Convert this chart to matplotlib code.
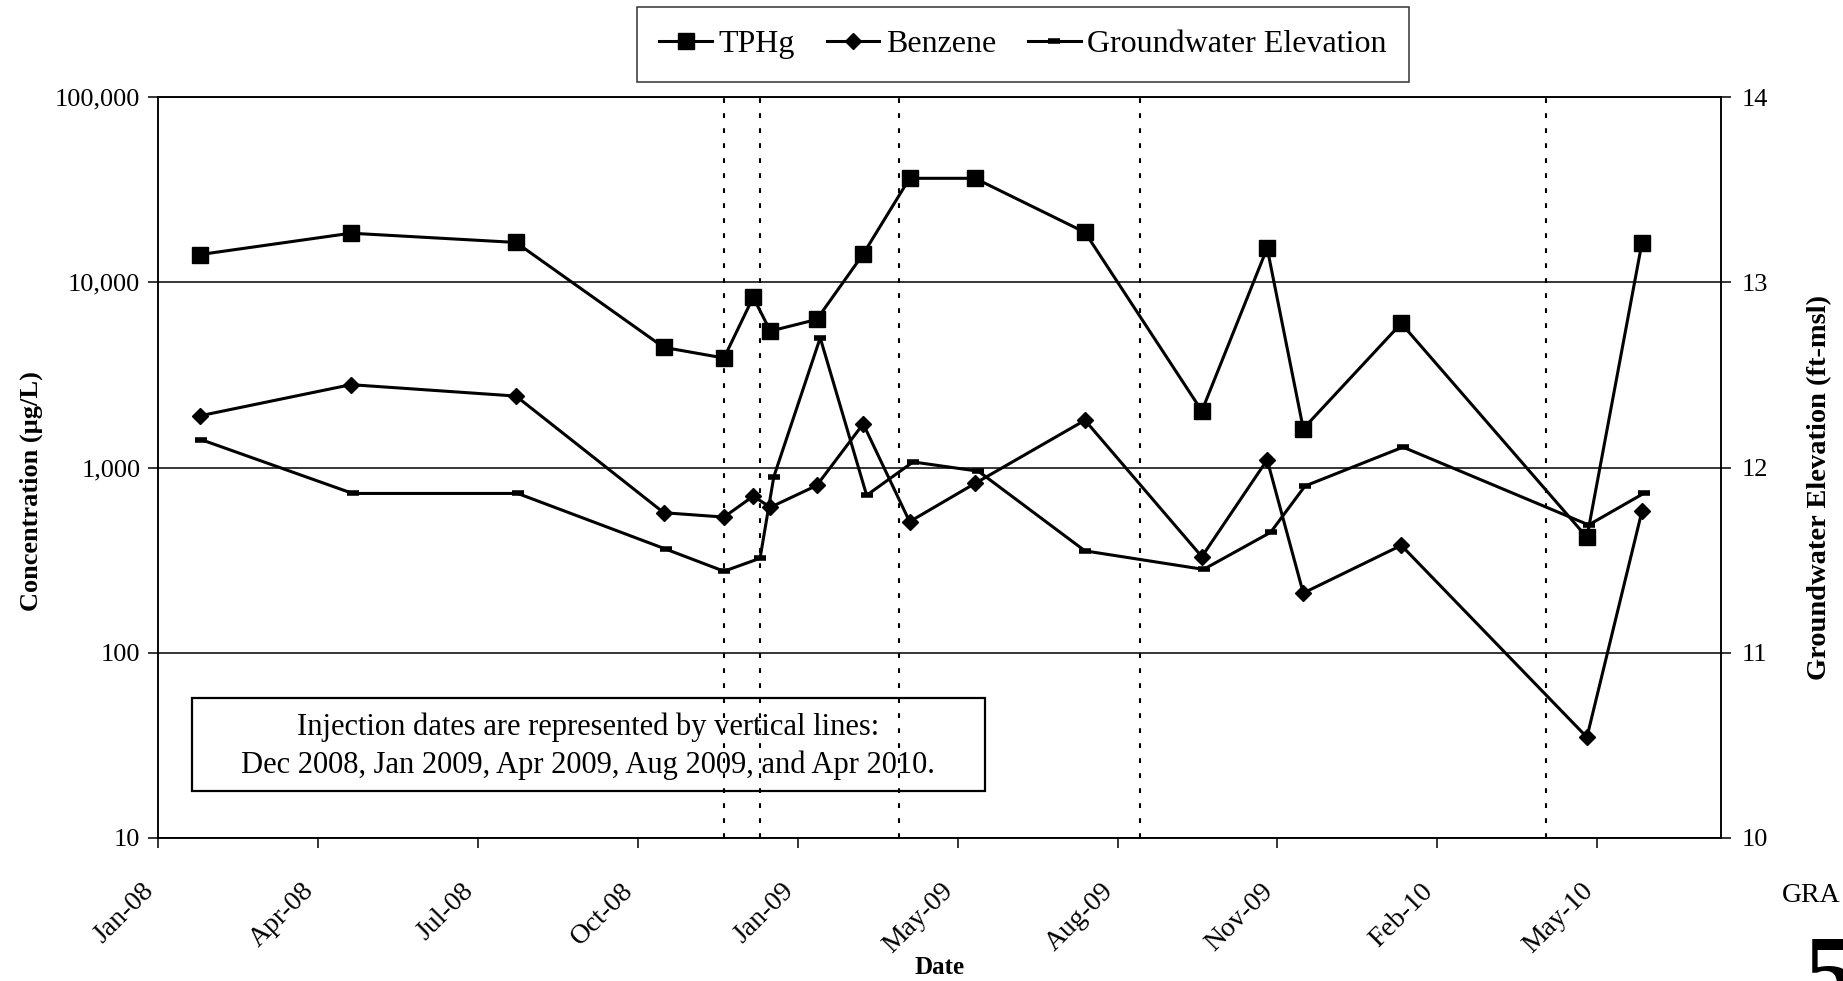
import pandas as pd
import matplotlib.pyplot as plt
import matplotlib.dates as mdates
import matplotlib.transforms as mtransforms
from matplotlib.patches import Rectangle
from matplotlib.lines import Line2D

plt.rcParams['font.family'] = ['Liberation Serif', 'DejaVu Serif']

# sample data
sample_dates = ['2008-02-16', '2008-05-14', '2008-08-18', '2008-11-12', '2008-12-17',
                '2009-01-03', '2009-01-13', '2009-02-09', '2009-03-08', '2009-04-04',
                '2009-05-12', '2009-07-15', '2009-09-21', '2009-10-29', '2009-11-19',
                '2010-01-15', '2010-05-03', '2010-06-04']
tphg = [14100, 18400, 16400, 4450, 3900, 8300, 5450, 6300, 14200, 36400,
        36400, 18600, 2020, 15300, 1620, 6000, 420, 16300]
benzene = [1900, 2800, 2430, 570, 540, 700, 610, 800, 1720, 510,
           820, 1800, 330, 1100, 210, 380, 35, 580]
gw_dates = ['2008-02-17', '2008-05-15', '2008-08-19', '2008-11-13', '2008-12-17',
            '2009-01-07', '2009-01-15', '2009-02-11', '2009-03-10', '2009-04-06',
            '2009-05-14', '2009-07-15', '2009-09-22', '2009-10-31', '2009-11-20',
            '2010-01-16', '2010-05-04', '2010-06-05']
gw_elev = [12.15, 11.86, 11.86, 11.56, 11.44, 11.51, 11.95, 12.70, 11.85, 12.03,
           11.98, 11.55, 11.45, 11.65, 11.90, 12.11, 11.69, 11.86]
injection_dates = ['2008-12-17', '2009-01-07', '2009-03-29', '2009-08-16', '2010-04-09']

conc_ticks = [10, 100, 1000, 10000, 100000]
conc_labels = ['10', '100', '1,000', '10,000', '100,000']
gw_ticks = [10, 11, 12, 13, 14]

# excel-style date axis: start Jan 23 2008, major unit 93 days
x_start = pd.Timestamp('2008-01-23')
x_end = pd.Timestamp('2010-07-20')
tick_dates = [x_start + pd.Timedelta(days=93 * k) for k in range(10)]

W, H = 1843, 981
fig = plt.figure(figsize=(W / 100, H / 100), dpi=100)
ax = fig.add_axes([158.4 / W, 1 - 838 / H, (1721 - 158.4) / W, (838 - 97) / H])
ax2 = ax.twinx()

d = pd.to_datetime(sample_dates)
for inj in pd.to_datetime(injection_dates):
    ax.axvline(inj, color='black', ls=(0, (2.3, 4.9)), lw=1.5, zorder=1)

ax.plot(d, tphg, color='black', lw=2.2, marker='s', ms=11, zorder=4)
ax.plot(d, benzene, color='black', lw=2.2, marker='D', ms=8, zorder=4)
ax2.plot(pd.to_datetime(gw_dates), gw_elev, color='black', lw=2.2,
         marker='_', ms=8, mew=4, zorder=4)

ax.set_yscale('log')
ax.set_ylim(10, 100000)
ax.set_yticks(conc_ticks)
ax.set_yticklabels(conc_labels)
ax.yaxis.set_minor_locator(plt.NullLocator())
ax.grid(axis='y', color='black', lw=1.1)

ax2.set_ylim(10, 14)
ax2.set_yticks(gw_ticks)

ax.set_xlim(x_start, x_end)
ax.set_xticks(tick_dates)
ax.xaxis.set_major_formatter(mdates.DateFormatter('%b-%y'))

for a in (ax, ax2):
    a.tick_params(direction='out', length=7, width=1.1, labelsize=19, colors='black')
    for s in a.spines.values():
        s.set_color('black')
        s.set_linewidth(1.1)
ax.tick_params(axis='x', pad=10, labelsize=20)
ax.tick_params(axis='y', pad=6)
ax2.tick_params(axis='y', pad=8)

shift = mtransforms.ScaledTranslation(-0.17, -0.17, fig.dpi_scale_trans)
for lbl in ax.get_xticklabels():
    lbl.set_rotation(45)
    lbl.set_ha('right')
    lbl.set_rotation_mode('anchor')
    lbl.set_transform(lbl.get_transform() + shift)

fig.text(31 / W, 1 - 491 / H, 'Concentration (µg/L)', rotation=90, ha='center', va='center',
         fontsize=19, fontweight='bold')
fig.text(1820 / W, 1 - 487 / H, 'Groundwater Elevation (ft-msl)', rotation=90,
         ha='center', va='center', fontsize=20.5, fontweight='bold')
fig.text(940 / W, 1 - 967 / H, 'Date', ha='center', va='center', fontsize=18, fontweight='bold')

# note box for injections
fig.patches.append(Rectangle((192 / W, 1 - 791 / H), 793 / W, 93 / H, transform=fig.transFigure,
                             fill=False, edgecolor='black', lw=1.6))
fig.text(588 / W, 1 - 735 / H, 'Injection dates are represented by vertical lines:',
         ha='center', va='baseline', fontsize=22)
fig.text(588 / W, 1 - 773 / H, 'Dec 2008, Jan 2009, Apr 2009, Aug 2009, and Apr 2010.',
         ha='center', va='baseline', fontsize=22)

handles = [
    Line2D([], [], color='black', lw=2.2, marker='s', ms=11),
    Line2D([], [], color='black', lw=2.2, marker='D', ms=8),
    Line2D([], [], color='black', lw=2.2, marker='_', ms=8, mew=4),
]
leg = fig.legend(handles, ['TPHg', 'Benzene', 'Groundwater Elevation'], loc='center',
                 bbox_to_anchor=(1023 / W, 1 - 44.5 / H), ncol=3, fontsize=23,
                 frameon=True, fancybox=False, edgecolor='black', handlelength=1.65,
                 handletextpad=0.2, columnspacing=1.0, borderpad=0.7)
leg.get_frame().set_linewidth(1.1)

# page edge text from the scan
fig.text(1782 / W, 1 - 902 / H, 'GRA', ha='left', va='baseline', fontsize=20)
fig.text(1805 / W, 1 - 935 / H, '5', ha='left', va='top', fontsize=72, fontweight='bold')

fig.savefig('out.png', dpi=100)
